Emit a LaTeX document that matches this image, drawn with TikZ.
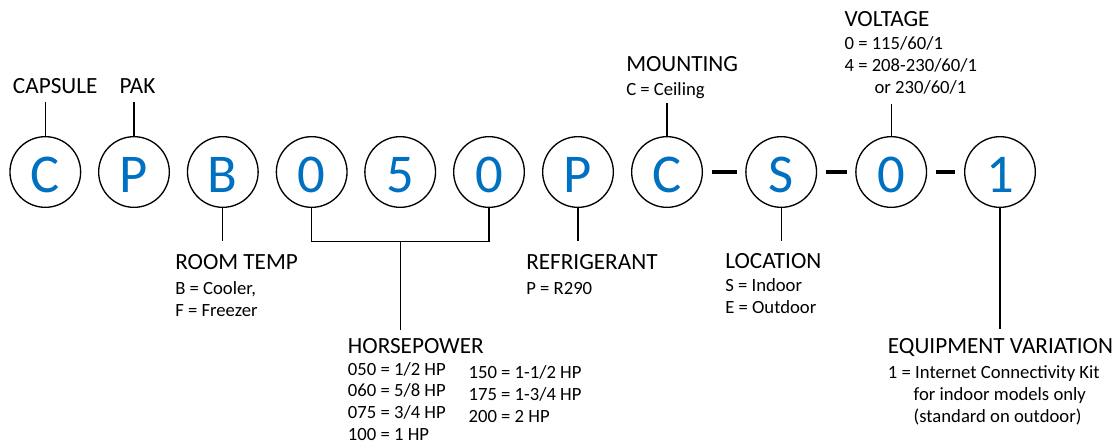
\documentclass[tikz,border=0pt]{standalone}
\usepackage{fontspec}
\setmainfont{Carlito}
\usetikzlibrary{positioning}

\begin{document}
\begin{tikzpicture}[x=0.75pt,y=0.75pt,yscale=-1,xscale=1,
  digit/.style={draw,circle,line width=1pt,minimum size=53pt,inner sep=0pt,text height=30.5pt,text depth=0pt,text={rgb, 255:red, 0; green, 112; blue, 192 },font=\fontsize{41}{41}\selectfont},
  head/.style={anchor=base west,inner sep=0.75pt,font=\fontsize{17.4}{20}\selectfont},
  info/.style={anchor=base west,inner sep=0.75pt,align=left,font=\fontsize{14}{16.4}\selectfont},
  tick/.style={line width=0.8pt},
  hyphen/.style={line width=3.2pt,shorten <=6.5pt,shorten >=6.5pt}]
\path (0,0) rectangle (1119,447);

%Shape: Circle [id:capsule letters] 
\draw (45.3,172) node [digit] (c1) {C};
\draw (134,172) node [digit] (c2) {P};
\draw (222.8,172) node [digit] (c3) {B};
\draw (311.7,172) node [digit] (c4) {0};
\draw (400.2,172) node [digit] (c5) {5};
\draw (489,172) node [digit] (c6) {0};
\draw (578,172) node [digit] (c7) {P};
\draw (667,172) node [digit] (c8) {C};
\draw (781.2,172) node [digit] (c9) {S};
\draw (891.2,172) node [digit] (c10) {0};
\draw (1000,172) node [digit] (c11) {1};

%Straight Lines [id:dashes] 
\draw [hyphen] (c8) -- (c9);
\draw [hyphen] (c9) -- (c10);
\draw [hyphen] (c10) -- (c11);

% Text Node (multi-line info nodes sit on the baseline of their last line)
\draw (11.7,93.3) node [head] (capsule) {CAPSULE};
% Text Node
\draw (118.3,93.3) node [head] (pak) {PAK};
% Text Node
\draw (625,71.2) node [head] (mounting) {MOUNTING};
\draw (625,95) node [info] (mountopt) {C = Ceiling};
% Text Node
\draw (843.3,26.7) node [head] (voltage) {VOLTAGE};
\draw (843.3,93.7) node [info] (voltopt) {0 = 115/60/1\\4 = 208-230/60/1\\\hspace*{22.5pt}or 230/60/1};
% Text Node
\draw (174,269.3) node [head] (roomtemp) {ROOM TEMP};
\draw (174,316.4) node [info] (roomopt) {B = Cooler,\\F = Freezer};
% Text Node
\draw (525,269.3) node [head] (refrig) {REFRIGERANT};
\draw (525,294) node [info] (refopt) {P = R290};
% Text Node
\draw (724,268.3) node [head] (location) {LOCATION};
\draw (724,313.6) node [info] (locopt) {S = Indoor\\E = Outdoor};
% Text Node
\draw (346.7,353.3) node [head] (horsepower) {HORSEPOWER};
\draw (346.7,440.6) node [info] (hpa) {050 = 1/2 HP\\060 = 5/8 HP\\075 = 3/4 HP\\100 = 1 HP};
\draw (467.3,422) node [info] (hpb) {150 = 1-1/2 HP\\175 = 1-3/4 HP\\200 = 2 HP};
% Text Node
\draw (886.7,353) node [head] (equipment) {EQUIPMENT VARIATION};
\draw (886.7,422) node [info] (eqopt) {1 = Internet Connectivity Kit\\\hspace*{19.3pt}for indoor models only\\\hspace*{19.3pt}(standard on outdoor)};

%Straight Lines [id:ticks] 
\draw [tick] (c1.north) -- ++(0,-34);
\draw [tick] (c2.north) -- ++(0,-34);
\draw [tick] (c8.north) -- ++(0,-33.4);
\draw [tick] (c10.north) -- ++(0,-31.7);
\draw [tick] (c3.south) -- ++(0,33.4);
\draw [tick] (c7.south) -- ++(0,33.4);
\draw [tick] (c9.south) -- ++(0,33.4);
\draw [tick] (c11.south) -- ++(0,121);
\draw [tick] (c4.south) -- ++(0,33.4) coordinate (bracket) -| (c6.south);
\draw [tick] (c5.south |- bracket) -- ++(0,88.3);

\end{tikzpicture}
\end{document}
